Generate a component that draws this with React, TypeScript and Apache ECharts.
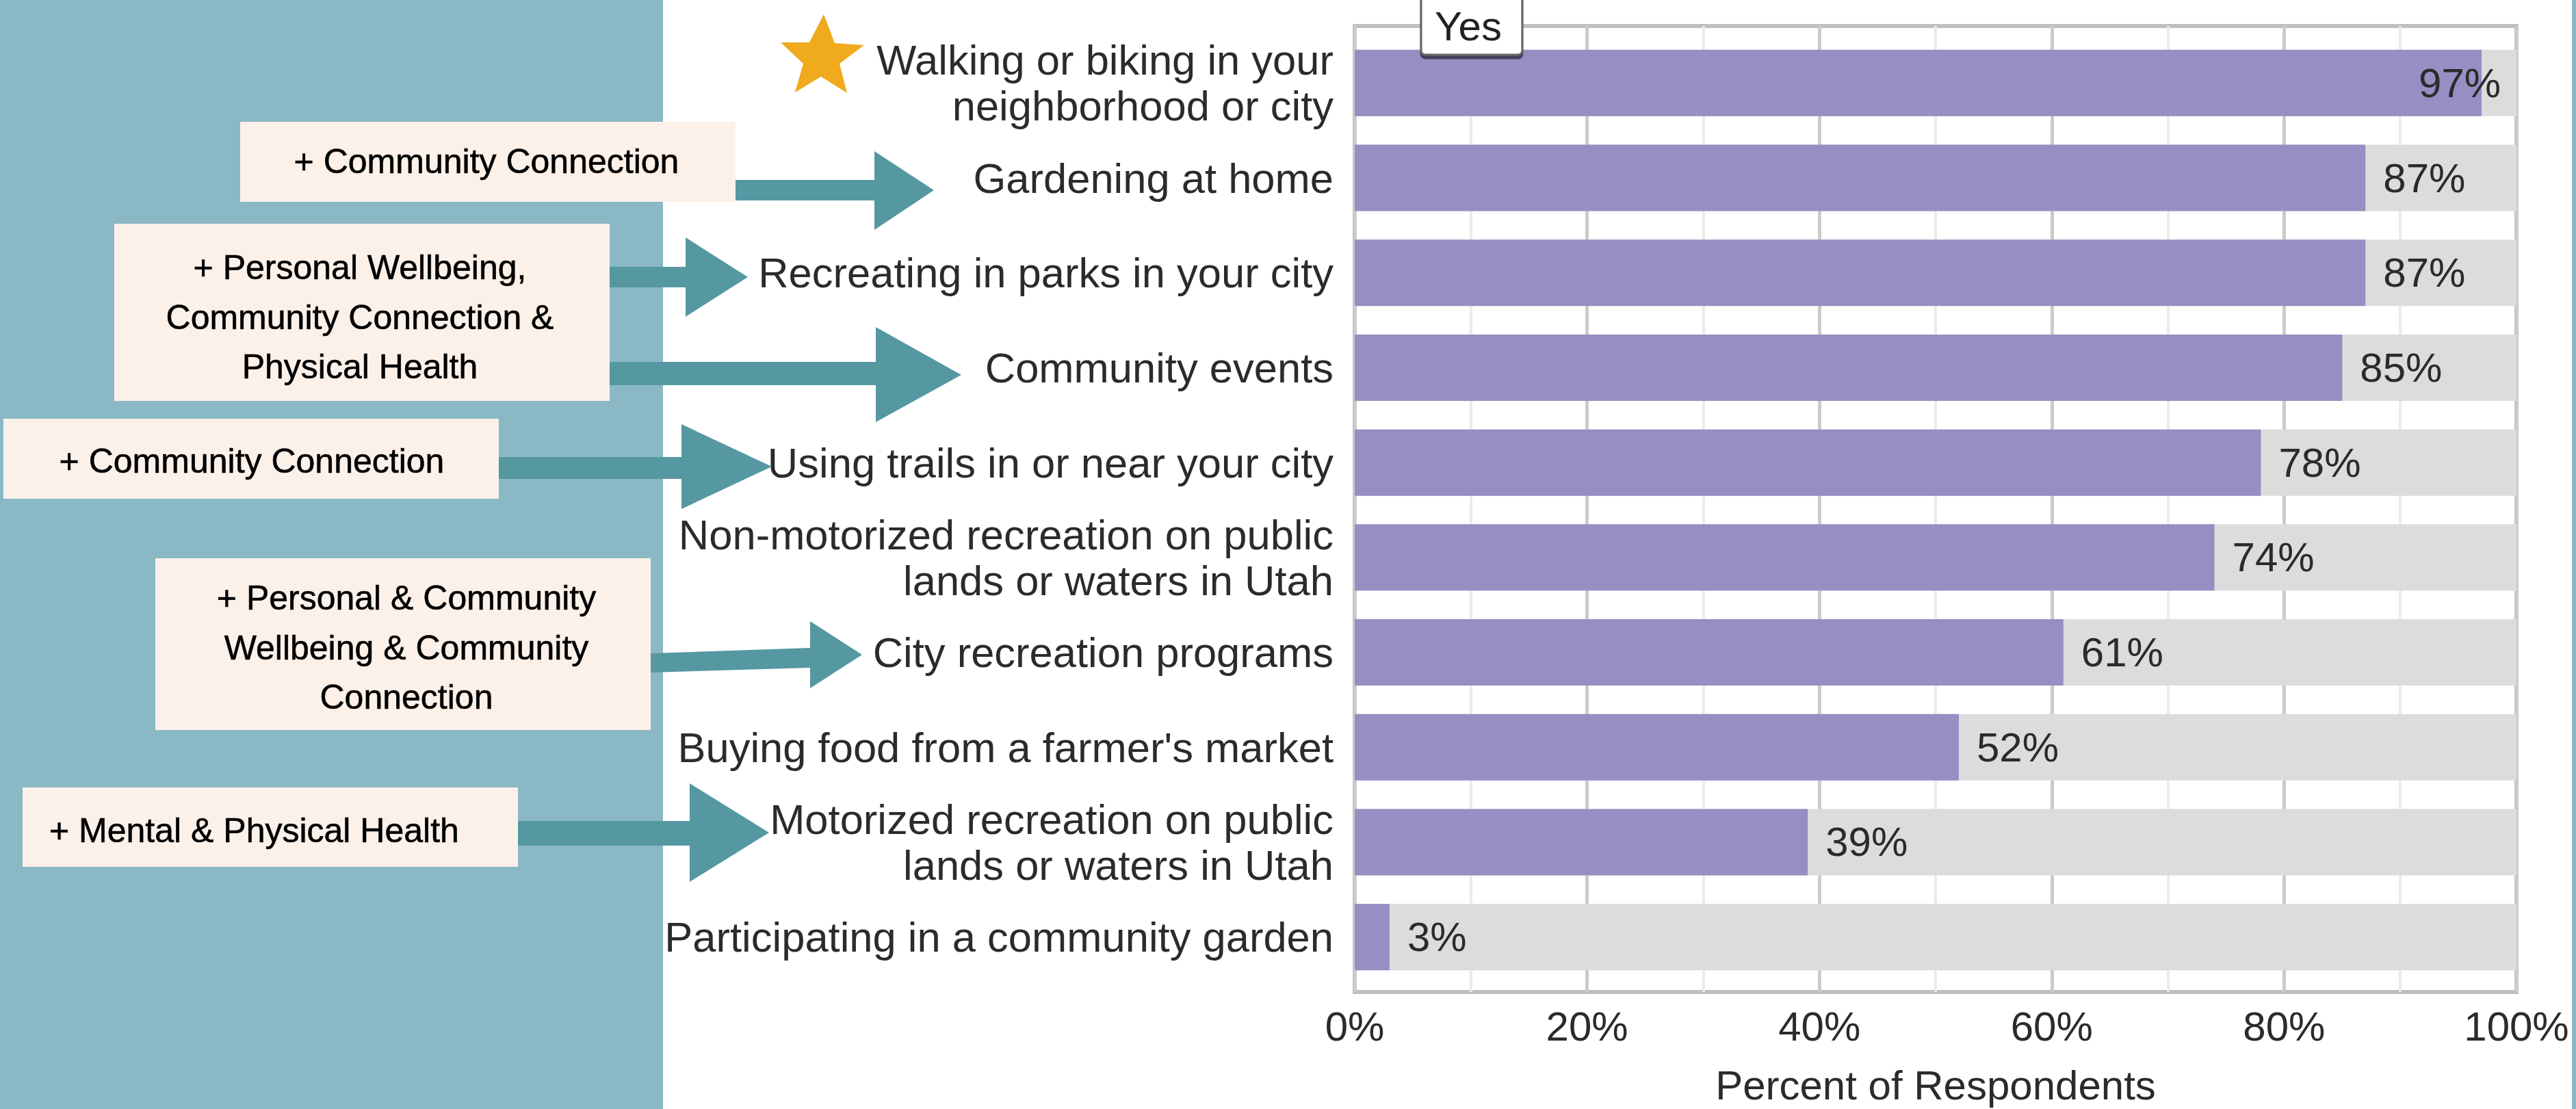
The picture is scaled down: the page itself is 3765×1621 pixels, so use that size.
import React, { useEffect, useRef } from "react";
import * as echarts from "echarts";

const categories = [
  "Walking or biking in your\nneighborhood or city",
  "Gardening at home",
  "Recreating in parks in your city",
  "Community events",
  "Using trails in or near your city",
  "Non-motorized recreation on public\nlands or waters in Utah",
  "City recreation programs",
  "Buying food from a farmer's market",
  "Motorized recreation on public\nlands or waters in Utah",
  "Participating in a community garden",
];
const yesValues = [97, 87, 87, 85, 78, 74, 61, 52, 39, 3];
const seriesName = "Yes";
const axisTitle = "Percent of Respondents";
const annotationTexts = [
  "+ Community Connection",
  "+ Personal Wellbeing,\nCommunity Connection &\nPhysical Health",
  "+ Community Connection",
  "+ Personal & Community\nWellbeing & Community\nConnection",
  "+ Mental & Physical Health",
];

const FONT = "'Liberation Sans', Arial, Helvetica, sans-serif";
const TEAL_PANEL = "#8AB8C4";
const TEAL_ARROW = "#5598A2";
const CREAM = "#FCF1E9";

function arrow(x0: number, y1: number, y2: number, xb: number, yh1: number, yh2: number, xt: number, yt: number, y1r?: number, y2r?: number) {
  const r1 = y1r ?? y1;
  const r2 = y2r ?? y2;
  return {
    type: "polygon",
    shape: { points: [[x0, y1], [xb, r1], [xb, yh1], [xt, yt], [xb, yh2], [xb, r2], [x0, y2]] },
    style: { fill: TEAL_ARROW },
    z: 5,
  };
}

function box(x: number, y: number, w: number, h: number) {
  return { type: "rect", shape: { x, y, width: w, height: h }, style: { fill: CREAM }, z: 4 };
}

function label(text: string, x: number, y: number, align: string, lh: number) {
  return {
    type: "text",
    x,
    y,
    z: 6,
    style: {
      text,
      fill: "#000",
      fontSize: 50,
      fontFamily: FONT,
      align,
      verticalAlign: "middle",
      lineHeight: lh,
      stroke: "#000",
      lineWidth: 0.6,
    },
  };
}

export default function App() {
  const ref = useRef<HTMLDivElement>(null);
  useEffect(() => {
    document.body.style.margin = "0";
    const chart = echarts.init(ref.current!, undefined, { renderer: "svg" });
    const dataItems = yesValues.map((v, i) =>
      i === 0 ? { value: v, label: { distance: -92 } } : { value: v }
    );
    const option: any = {
      animation: false,
      backgroundColor: "#ffffff",
      textStyle: { fontFamily: FONT },
      legend: {
        show: true,
        data: [seriesName],
        left: 2077,
        top: -20,
        itemWidth: 0,
        itemHeight: 0,
        icon: "rect",
        selectedMode: false,
        padding: [28, 30, 12, 15],
        backgroundColor: "#ffffff",
        borderColor: "#666666",
        borderWidth: 3,
        borderRadius: 6,
        shadowColor: "rgba(40,40,60,0.75)",
        shadowOffsetY: 5,
        shadowBlur: 0,
        textStyle: { fontSize: 60, color: "#222", fontFamily: FONT, lineHeight: 60 },
        z: 20,
      },
      grid: [
        { left: 1980, width: 1698, top: 52, height: 1387, containLabel: false },
        {
          left: 1980,
          width: 1698,
          top: 38,
          height: 1414,
          show: true,
          borderColor: "#bfbfbf",
          borderWidth: 6,
          backgroundColor: "transparent",
        },
      ],
      xAxis: [
        { type: "value", gridIndex: 0, min: 0, max: 100, show: false },
        {
          type: "value",
          gridIndex: 1,
          min: 0,
          max: 100,
          interval: 20,
          axisLine: { show: false },
          axisTick: { show: false },
          minorTick: { show: false, splitNumber: 2 },
          splitLine: { show: true, lineStyle: { color: "#cbcbcb", width: 5 } },
          minorSplitLine: { show: true, lineStyle: { color: "#ebebeb", width: 4 } },
          axisLabel: {
            formatter: "{value}%",
            fontSize: 60,
            color: "#2b2b2b",
            margin: 20,
            fontFamily: FONT,
          },
          name: axisTitle,
          nameLocation: "middle",
          nameGap: 106,
          nameTextStyle: { fontSize: 60, color: "#2b2b2b", fontFamily: FONT },
        },
      ],
      yAxis: [
        {
          type: "category",
          gridIndex: 0,
          data: categories,
          inverse: true,
          axisLine: { show: false },
          axisTick: { show: false },
          splitLine: { show: false },
          axisLabel: {
            fontSize: 61.5,
            lineHeight: 67,
            color: "#2b2b2b",
            margin: 31,
            fontFamily: FONT,
            align: "right",
          },
        },
        { type: "value", gridIndex: 1, show: false },
      ],
      series: [
        {
          name: seriesName,
          type: "bar",
          xAxisIndex: 0,
          yAxisIndex: 0,
          data: dataItems,
          barWidth: 97,
          itemStyle: { color: "#978EC3" },
          showBackground: true,
          backgroundStyle: { color: "#dcdcdc" },
          label: {
            show: true,
            position: "right",
            distance: 26,
            formatter: "{c}%",
            fontSize: 60,
            color: "#2b2b2b",
            fontFamily: FONT,
          },
          z: 3,
        },
      ],
      graphic: [
        { type: "rect", shape: { x: 0, y: 0, width: 969, height: 1621 }, style: { fill: TEAL_PANEL }, z: 1 },
        { type: "rect", shape: { x: 3759, y: 0, width: 6, height: 1621 }, style: { fill: TEAL_PANEL }, z: 1 },
        box(351, 178, 724, 117),
        box(167, 327, 724, 259),
        box(5, 612, 724, 117),
        box(227, 816, 724, 251),
        box(33, 1151, 724, 116),
        arrow(1075, 263, 293, 1278, 221, 336, 1365, 278),
        arrow(891, 390, 420, 1002, 347, 463, 1093, 405),
        arrow(891, 529, 563, 1280, 478, 617, 1405, 548),
        arrow(729, 668, 700, 996, 620, 744, 1128, 682),
        arrow(951, 955, 983, 1184, 908, 1006, 1260, 957, 947, 976),
        arrow(757, 1200, 1236, 1008, 1145, 1289, 1124, 1217),
        label(annotationTexts[0], 711, 236, "center", 72.5),
        label(annotationTexts[1], 526, 463.5, "center", 72.5),
        label(annotationTexts[2], 368, 674, "center", 72.5),
        label(annotationTexts[3], 594, 946.5, "center", 72.5),
        label(annotationTexts[4], 72, 1214, "left", 72.5),
        {
          type: "polygon",
          shape: {
            points: [
              [1204, 21], [1220, 63], [1263, 66], [1227, 93], [1238, 136],
              [1200, 112], [1162, 135], [1174, 93], [1141, 62], [1183, 62],
            ],
          },
          style: { fill: "#EFAA1E" },
          z: 6,
        },
      ],
    };
    chart.setOption(option);
    return () => chart.dispose();
  }, []);
  return (
    <div
      ref={ref}
      style={{ position: "fixed", left: 0, top: 0, width: 3765, height: 1621 }}
    />
  );
}
